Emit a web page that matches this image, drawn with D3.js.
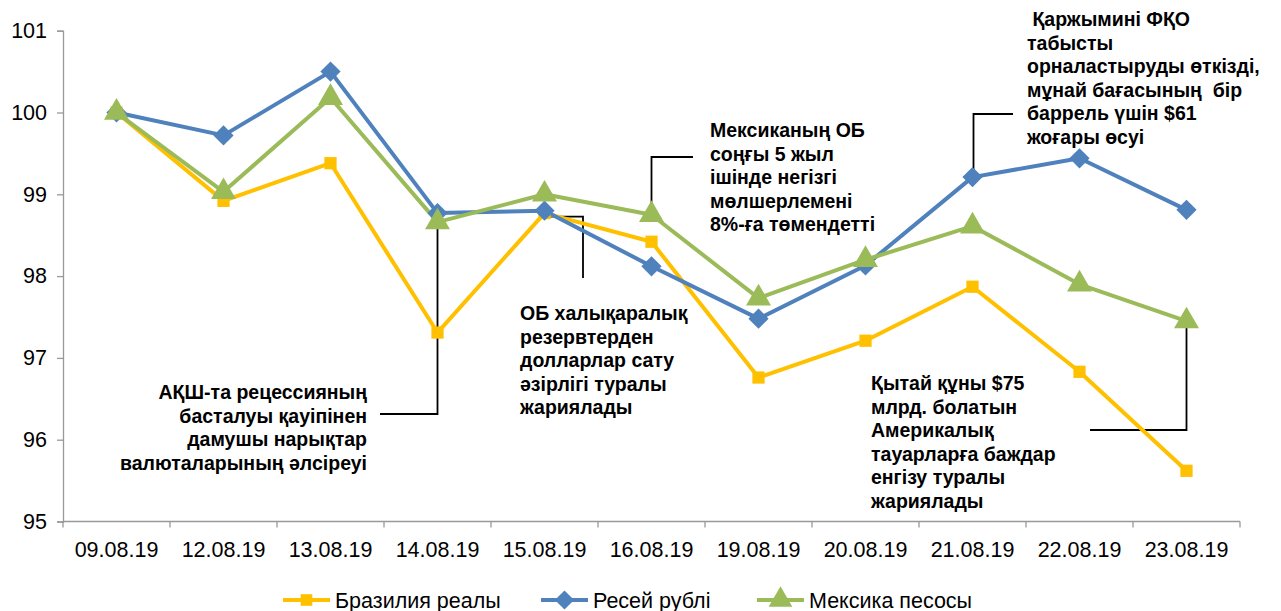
<!DOCTYPE html>
<html><head><meta charset="utf-8">
<script src="https://cdn.jsdelivr.net/npm/d3@7/dist/d3.min.js"></script>
<style>body{margin:0;background:#fff}svg{display:block}text{font-family:"Liberation Sans",Arial,sans-serif}</style>
</head><body><svg id="c" width="1281" height="611"></svg>
<script>
const categories = ["09.08.19","12.08.19","13.08.19","14.08.19","15.08.19","16.08.19","19.08.19","20.08.19","21.08.19","22.08.19","23.08.19"];
const brazil = [100, 98.92, 99.38, 97.31, 98.77, 98.42, 96.76, 97.21, 97.87, 96.83, 95.62];
const russia = [100, 99.72, 100.5, 98.77, 98.80, 98.12, 97.48, 98.13, 99.21, 99.44, 98.81];
const mexico = [100, 99.03, 100.18, 98.66, 99.00, 98.75, 97.73, 98.20, 98.61, 97.90, 97.45];
const seriesNames = ["Бразилия реалы", "Ресей рублі", "Мексика песосы"];
const yTicks = [95, 96, 97, 98, 99, 100, 101];
const notes = [
  {lines:["АҚШ-та рецессияның","басталуы қауіпінен","дамушы нарықтар","валюталарының әлсіреуі"], anchor:"end"},
  {lines:["ОБ халықаралық","резервтерден","долларлар сату","әзірлігі туралы","жариялады"], anchor:"start"},
  {lines:["Мексиканың ОБ","соңғы 5 жыл","ішінде негізгі","мөлшерлемені","8%-ға төмендетті"], anchor:"start"},
  {lines:[" Қаржымині ФҚО","табысты","орналастыруды өткізді,","мұнай бағасының  бір","баррель үшін $61","жоғары өсуі"], anchor:"start"},
  {lines:["Қытай құны $75","млрд. болатын","Америкалық","тауарларға баждар","енгізу туралы","жариялады"], anchor:"start"}
];

const svg = d3.select("#c");
const L = 63, R = 1240, T = 30.7, B = 521.5;
const x = d3.scaleBand().domain(categories).range([L, R]);
const y = d3.scaleLinear().domain([95, 101]).range([B, T]);
const cx = c => x(c) + x.bandwidth()/2;

// axes
const yAx = svg.append("g").attr("transform",`translate(${L},0)`)
  .call(d3.axisLeft(y).tickValues(yTicks).tickSize(6).tickPadding(10).tickFormat(d3.format("d")));
const xAx = svg.append("g").attr("transform",`translate(0,${B})`)
  .call(d3.axisBottom(x).tickSize(6).tickPadding(14));
xAx.selectAll(".tick line").remove();
const bounds = categories.map(c => x(c)).concat([R]);
xAx.selectAll(".bt").data(bounds).enter().append("line")
  .attr("x1", d=>d).attr("x2", d=>d).attr("y1",0).attr("y2",6).attr("stroke","#999").attr("stroke-width",1.3);
[yAx, xAx].forEach(g => {
  g.select(".domain").attr("stroke","#999").attr("stroke-width",1.3);
  g.selectAll(".tick line").attr("stroke","#999").attr("stroke-width",1.3);
  g.selectAll("text").attr("font-size",21.5).attr("fill","#000").attr("font-family","Liberation Sans, Arial, sans-serif");
});
xAx.select(".domain").attr("d", `M${L},0H${R}`);

// connectors
const conn = svg.append("g").attr("stroke","#000").attr("stroke-width",1.8).attr("fill","none");
const p = (i, arr) => [cx(categories[i]), y(arr[i])];
const c1 = p(3, mexico); conn.append("path").attr("d", `M380,414H${c1[0]}V${c1[1]}`);
const c2 = p(4, russia); conn.append("path").attr("d", `M${c2[0]+4},${c2[1]+6}H583V278`);
const c3 = p(5, mexico); conn.append("path").attr("d", `M693,157H${c3[0]}V${c3[1]}`);
const c4 = p(8, russia); conn.append("path").attr("d", `M1013,114H${c4[0]+1}V${c4[1]}`);
const c5 = p(10, mexico); conn.append("path").attr("d", `M1090,430H${c5[0]}V${c5[1]+4}`);

// series
const colors = ["#FFC000","#4F81BD","#9BBB59"];
const data = [brazil, russia, mexico];
const line = d3.line().x((d,i)=>cx(categories[i])).y(d=>y(d));
const symbols = [d3.symbolSquare, d3.symbolDiamond2, d3.symbolTriangle];
const sizes = [150, 260, 270];
data.forEach((arr, k) => {
  svg.append("path").datum(arr).attr("d", line).attr("fill","none")
    .attr("stroke", colors[k]).attr("stroke-width", 4).attr("stroke-linejoin","round");
});
data.forEach((arr, k) => {
  svg.append("g").selectAll("path").data(arr).enter().append("path")
    .attr("d", d3.symbol().type(symbols[k]).size(sizes[k]))
    .attr("transform", (d,i)=>`translate(${cx(categories[i])},${y(d)})`)
    .attr("fill", colors[k]);
});

// annotations
const notePos = [[367,399],[520,320],[710,137],[1027,26],[871,390]];
notes.forEach((n, i) => {
  const t = svg.append("text").attr("x", notePos[i][0]).attr("y", notePos[i][1])
    .attr("text-anchor", n.anchor).attr("font-size", 19.5).attr("font-weight","bold").attr("fill","#000")
    .style("white-space","pre");
  n.lines.forEach((l, j) => t.append("tspan").attr("x", notePos[i][0]).attr("dy", j ? 23.5 : 0).text(l));
});

// legend
const legX = [283, 541, 757];
const lg = svg.append("g");
seriesNames.forEach((name, k) => {
  const g = lg.append("g").attr("transform", `translate(${legX[k]},600)`);
  g.append("line").attr("x1",0).attr("x2",47).attr("stroke",colors[k]).attr("stroke-width",4);
  g.append("path").attr("d", d3.symbol().type(symbols[k]).size(sizes[k]*0.9)).attr("transform","translate(23.5,0)").attr("fill",colors[k]);
  g.append("text").attr("x",52).attr("y",7.5).attr("font-size",21.5).attr("fill","#000").text(name);
});
</script></body></html>
